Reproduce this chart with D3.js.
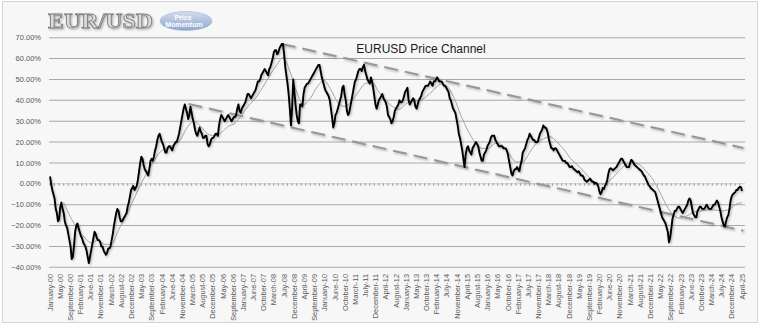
<!DOCTYPE html>
<html>
<head>
<meta charset="utf-8">
<script src="https://cdn.jsdelivr.net/npm/d3@7"></script>
<style>
  html, body { margin: 0; padding: 0; background: #fff; }
  svg { display: block; }
</style>
</head>
<body>
<script>
// EUR/USD reading (%), start of each month from January 2000
var price = [
  3.5, -3, -7, -14, -17, -9, -14, -20, -24, -30, -35, -23,   // 2000
  -19, -23, -26, -29, -32, -38, -32, -26, -24, -27, -28, -30, // 2001
  -33, -33, -31, -27, -20, -14, -13, -18, -17, -15, -11, -6,  // 2002
  -2, -3, -1, 6, 13, 9, 6, 4, 11, 11, 16, 21,                 // 2003
  24, 20, 17, 15, 18, 17, 18, 20, 22, 27, 33, 38,             // 2004
  34, 33, 34, 29, 24, 25, 25, 22, 23, 19, 19, 22,             // 2005
  23, 24, 28, 33, 31, 31, 33, 31, 31, 32, 36, 35,             // 2006
  36, 38, 41, 43, 41, 43, 45, 49, 50, 53, 55, 53,             // 2007
  55, 58, 63, 64, 63, 66, 67, 56, 48, 36, 36, 44,             // 2008
  33, 29, 38, 43, 47, 48, 50, 52, 54, 56, 57, 51,             // 2009
  47, 44, 42, 36, 27, 33, 36, 40, 46, 43, 35, 34,             // 2010
  40, 46, 50, 54, 55, 56, 54, 50, 48, 49, 42, 36,             // 2011
  40, 42, 41, 39, 33, 31, 30, 35, 37, 40, 39, 42,             // 2012
  45, 40, 39, 41, 37, 38, 41, 44, 46, 47, 48, 48,             // 2013
  49, 50, 50, 49, 48, 47, 45, 41, 38, 35, 31, 24,             // 2014
  19, 12, 14, 18, 15, 17, 19, 19, 15, 11, 14, 16,             // 2015
  19, 22, 23, 21, 19, 18, 18, 17, 16, 11, 5, 6,               // 2016
  7, 7, 9, 15, 17, 21, 24, 22, 21, 20, 22, 25,                // 2017
  28, 27, 24, 19, 17, 17, 16, 14, 12, 11, 10, 9,              // 2018
  8, 7.5, 6.5, 5.5, 5, 4, 2, 1, 2, 1.5, 1, 0.5,               // 2019
  -1, -5, -2, -1, 2, 7, 7, 7, 8, 10, 12, 11,                  // 2020
  9, 8, 10, 11, 9, 8, 7, 6, 4, 2, -0.5, -2,                   // 2021
  -3, -4, -8, -12, -16, -18, -21, -28, -22, -15, -13, -11,    // 2022
  -12, -14, -12, -10, -7, -11, -15, -16, -12, -11, -12, -11,  // 2023
  -11, -12, -11, -10, -8, -11, -16, -20, -18, -15, -8, -5,    // 2024
  -4, -3, -1.5, -3.5                                          // 2025
];

// same reading, middle of each month
var priceMid = [
  0, -5, -12, -18, -11, -12, -18, -21, -27, -36, -30, -20,           // 2000
  -21, -25, -28, -30, -35, -35, -29, -23, -26, -27, -30, -32,        // 2001
  -34, -31, -30, -24, -17, -12, -16, -18, -16, -14, -9, -3,          // 2002
  -1, -2, 2, 10, 12, 7, 5, 7, 12, 13, 18, 23,                        // 2003
  22, 19, 15, 17, 18, 16, 19, 20, 24, 30, 36, 36,                    // 2004
  31, 37, 31, 26, 23, 27, 24, 22, 23, 18, 21, 22,                    // 2005
  24, 23, 31, 32, 30, 32, 32, 30, 32, 33, 38, 34,                    // 2006
  37, 39, 43, 42, 42, 44, 47, 49, 52, 54, 54, 52,                    // 2007
  56, 60, 64, 62, 65, 67, 62, 52, 43, 28, 50, 38,                    // 2008
  30, 38, 37, 46, 48, 49, 51, 53, 55, 57, 54, 49,                    // 2009
  45, 43, 40, 32, 29, 34, 38, 42, 47, 40, 33, 37,                    // 2010
  43, 49, 52, 55, 54, 57, 52, 49, 51, 46, 38, 38,                    // 2011
  41, 43, 40, 37, 32, 29, 32, 36, 38, 39, 40, 44,                    // 2012
  46, 38, 40, 40, 36, 40, 42, 45, 47, 47, 49, 47,                    // 2013
  49, 51, 49, 49, 47, 46, 44, 40, 36, 34, 28, 22,                    // 2014
  16, 8, 17, 16, 14, 18, 20, 18, 13, 11, 15, 18,                     // 2015
  20, 23, 23, 20, 18, 18, 17, 17, 14, 8, 4, 7,                       // 2016
  8, 6, 11, 16, 19, 22, 23, 21, 20, 20, 24, 26,                      // 2017
  27, 26, 21, 17, 16, 17, 15, 13, 11, 11, 10, 8,                     // 2018
  8.5, 7, 6, 6, 4, 3.5, 1.5, 1.5, 2.5, 1, 0, 0,                      // 2019
  -3.5, -4, -2.5, 0, 5, 7.5, 6.5, 7.5, 9, 11, 12, 10,                // 2020
  8, 8, 11.5, 10, 8.5, 7.5, 6.5, 5, 3.5, 1, -1, -2.5,                // 2021
  -3.5, -6, -10, -14, -17, -19, -23, -26, -17, -13, -12, -11,        // 2022
  -13, -13, -11, -8, -8, -14, -16, -13, -11, -12, -12, -10,          // 2023
  -12, -12, -10, -9, -9, -13, -18, -20.5, -16, -12, -6, -4.5,        // 2024
  -3, -2, -1.5                                                       // 2025
];

// moving average, read every 3 months from July 2000
var maStart = 6;
var maStep = 3;
var movingAvg = [
  -9, -16, -21.5, -25.5, -28.3, -27, -29, -29, -22, -16, -9, -2, 4.5, 10, 15, 17,
  18.5, 21, 27, 30, 27.5, 24, 23, 24.5, 27.5, 29, 33, 37.5, 41, 46, 51.5, 56.5,
  60.5, 54, 44, 38, 41, 46.5, 49.5, 45, 39, 37, 39.5, 44, 48, 48.5, 44, 40,
  37, 35.7, 38.5, 39.5, 40, 42, 45, 47.7, 46.5, 41, 32.5, 25.5, 20, 17,
  17, 19.5, 18.5, 14.5, 10.5, 10.5, 15, 19.5, 21.5, 22.5, 20, 16.5, 12, 9,
  5.5, 2, 0, 0, 2.5, 6, 9, 10, 9.3, 6, 2, -4, -10.5, -15, -16.5, -15.3,
  -13.5, -13, -12.5, -12.5, -13, -12.5, -10, -9
];

// channel lines: [month index, %]
var upperChannel = [[101.5, 67.0], [303.6, 17.2]];
var lowerChannel = [[60.6, 38.3], [303.6, -22.5]];

var yTicks = [70, 60, 50, 40, 30, 20, 10, 0, -10, -20, -30, -40];

var xLabels = [
  "January-00", "May-00", "September-00", "February-01", "June-01", "November-01",
  "March-02", "August-02", "December-02", "May-03", "September-03", "February-04",
  "June-04", "November-04", "March-05", "August-05", "December-05", "May-06",
  "September-06", "January-07", "June-07", "October-07", "March-08", "July-08",
  "December-08", "April-09", "September-09", "January-10", "June-10", "October-10",
  "March-11", "July-11", "December-11", "April-12", "August-12", "January-13",
  "May-13", "October-13", "February-14", "July-14", "November-14", "April-15",
  "August-15", "January-16", "May-16", "October-16", "February-17", "July-17",
  "November-17", "March-18", "August-18", "December-18", "May-19", "September-19",
  "February-20", "June-20", "November-20", "March-21", "August-21", "December-21",
  "May-22", "September-22", "February-23", "June-23", "October-23", "March-24",
  "July-24", "December-24", "April-25"
];

var w = 760;
var h = 326;
var left = 49, right = 745;

var svg = d3.select("body")
  .append("svg")
  .attr("width", w)
  .attr("height", h);

var defs = svg.append("defs");
var shadow = defs.append("filter").attr("id", "shadow")
  .attr("x", "-5%").attr("y", "-5%").attr("width", "110%").attr("height", "110%");
shadow.append("feDropShadow")
  .attr("dx", 1).attr("dy", 1.2)
  .attr("stdDeviation", 1.2)
  .attr("flood-color", "#000")
  .attr("flood-opacity", 0.3);

var badgeGrad = defs.append("linearGradient").attr("id", "badge")
  .attr("x1", 0).attr("y1", 0).attr("x2", 0).attr("y2", 1);
badgeGrad.append("stop").attr("offset", "0%").attr("stop-color", "#d3ddef");
badgeGrad.append("stop").attr("offset", "100%").attr("stop-color", "#8ea6cf");

// background + frame
svg.append("rect")
  .attr("x", 2.5).attr("y", 1.5)
  .attr("width", 755).attr("height", 321)
  .attr("fill", "#f7f7f7")
  .attr("stroke", "#d4d4d4");

var x = d3.scaleLinear().domain([0, 303.6]).range([50, 743.4]);
var y = d3.scaleLinear().domain([-40, 70]).range([267.3, 37.7]);
var xl = d3.scalePoint().domain(xLabels).range([50, 742]);

// gridlines
svg.append("g")
  .selectAll("line")
  .data(yTicks.filter(function(d) { return d !== 0; }))
  .enter()
  .append("line")
  .attr("x1", left).attr("x2", right)
  .attr("y1", function(d) { return y(d); })
  .attr("y2", function(d) { return y(d); })
  .attr("stroke", "#a9a9a9")
  .attr("stroke-width", 1.1);

// y labels
svg.append("g")
  .selectAll("text")
  .data(yTicks)
  .enter()
  .append("text")
  .attr("x", 41)
  .attr("y", function(d) { return y(d); })
  .attr("dy", "0.35em")
  .attr("text-anchor", "end")
  .attr("font-family", "'Liberation Sans', Arial, sans-serif")
  .attr("font-size", "7.5px")
  .attr("fill", "#595959")
  .text(function(d) { return d3.format(".2f")(d) + "%"; });

// zero axis with small ticks
var zeroY = y(0);
svg.append("line")
  .attr("x1", left).attr("x2", right)
  .attr("y1", zeroY).attr("y2", zeroY)
  .attr("stroke", "#b5b5b5")
  .attr("stroke-width", 0.7);
svg.append("g")
  .selectAll("line")
  .data(d3.range(0, 304, 2))
  .enter()
  .append("line")
  .attr("x1", function(d) { return x(d); })
  .attr("x2", function(d) { return x(d); })
  .attr("y1", zeroY - 0.5).attr("y2", zeroY + 2)
  .attr("stroke", "#8a8a8a")
  .attr("stroke-width", 0.8);

// x labels (rotated)
svg.append("g")
  .selectAll("text")
  .data(xLabels)
  .enter()
  .append("text")
  .attr("transform", function(d) { return "translate(" + xl(d) + ",274) rotate(-90)"; })
  .attr("dy", "0.35em")
  .attr("text-anchor", "end")
  .attr("font-family", "'Liberation Sans Narrow', 'Liberation Sans', Arial, sans-serif")
  .attr("font-size", "7.4px")
  .attr("fill", "#595959")
  .text(function(d) { return d; });

// channel
var chLine = d3.line()
  .x(function(d) { return x(d[0]); })
  .y(function(d) { return y(d[1]); });
[upperChannel, lowerChannel].forEach(function(c) {
  svg.append("path")
    .attr("d", chLine(c))
    .attr("fill", "none")
    .attr("stroke", "#969696")
    .attr("stroke-width", 2)
    .attr("stroke-dasharray", "14,7")
    .attr("filter", "url(#shadow)");
});

// moving average
var maLine = d3.line()
  .curve(d3.curveMonotoneX)
  .x(function(d, i) { return x(maStart + i * maStep); })
  .y(function(d) { return y(d); });
svg.append("path")
  .datum(movingAvg)
  .attr("d", maLine)
  .attr("fill", "none")
  .attr("stroke", "#a3a3a3")
  .attr("stroke-width", 1);

// price: start-of-month and mid-month readings in order
var pricePts = [];
price.forEach(function(v, i) {
  pricePts.push([i, v]);
  if (i < priceMid.length) pricePts.push([i + 0.5, priceMid[i]]);
});

var priceLine = d3.line()
  .x(function(d) { return x(d[0]); })
  .y(function(d) { return y(d[1]); });
svg.append("path")
  .datum(pricePts)
  .attr("d", priceLine)
  .attr("fill", "none")
  .attr("stroke", "#000")
  .attr("stroke-width", 1.9)
  .attr("stroke-linejoin", "round")
  .attr("filter", "url(#shadow)");

// title
svg.append("text")
  .attr("x", 421).attr("y", 53)
  .attr("text-anchor", "middle")
  .attr("font-family", "'Liberation Sans', Arial, sans-serif")
  .attr("font-size", "12px")
  .attr("fill", "#1a1a1a")
  .text("EURUSD Price Channel");

// logo
svg.append("text")
  .attr("x", 48).attr("y", 28)
  .attr("textLength", 105)
  .attr("lengthAdjust", "spacingAndGlyphs")
  .attr("font-family", "'Liberation Serif', 'DejaVu Serif', serif")
  .attr("font-weight", "bold")
  .attr("font-size", "21px")
  .attr("fill", "#dcdcdc")
  .attr("stroke", "#7a7a7a")
  .attr("stroke-width", 0.8)
  .attr("filter", "url(#shadow)")
  .text("EUR/USD");

svg.append("ellipse")
  .attr("cx", 186).attr("cy", 21)
  .attr("rx", 26).attr("ry", 9.5)
  .attr("fill", "url(#badge)")
  .attr("stroke", "#9fb2d4")
  .attr("stroke-width", 0.6);
svg.append("text")
  .attr("x", 183).attr("y", 19.5)
  .attr("text-anchor", "middle")
  .attr("font-family", "'Liberation Sans Narrow', Arial, sans-serif")
  .attr("font-weight", "bold")
  .attr("font-size", "7px")
  .attr("fill", "#fff")
  .text("Price");
svg.append("text")
  .attr("x", 184).attr("y", 26.5)
  .attr("text-anchor", "middle")
  .attr("font-family", "'Liberation Sans Narrow', Arial, sans-serif")
  .attr("font-weight", "bold")
  .attr("font-size", "7px")
  .attr("fill", "#fff")
  .text("Momentum");
</script>
</body>
</html>
